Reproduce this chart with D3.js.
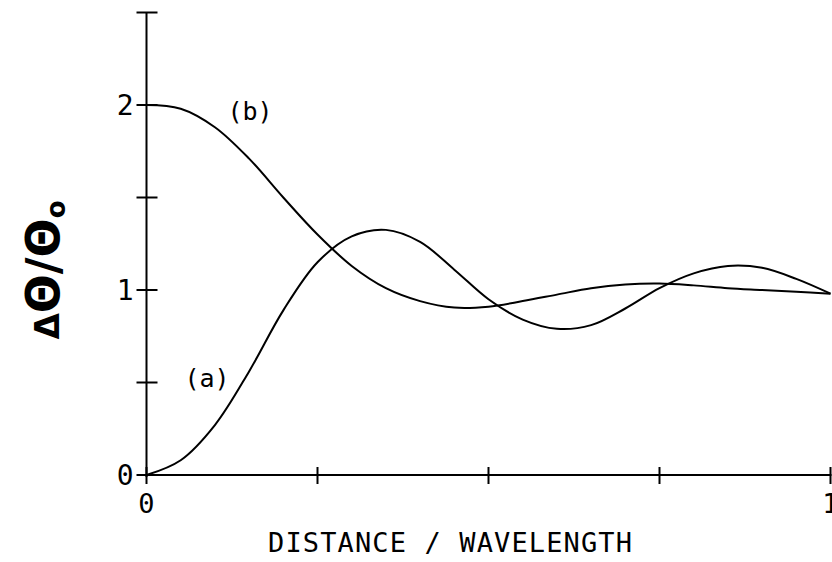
<!DOCTYPE html>
<html>
<head>
<meta charset="utf-8">
<script src="https://cdn.jsdelivr.net/npm/d3@7"></script>
<style>
  html, body { margin: 0; padding: 0; background: #fff; }
  svg { display: block; }
  text { fill: #000; }
</style>
</head>
<body>
<svg id="chart" width="832" height="562"></svg>
<script>
// Normalised distance along the path, in wavelengths
const distance = [0, 0.05, 0.1, 0.15, 0.2, 0.25, 0.3, 0.35, 0.4, 0.45, 0.5, 0.55, 0.6, 0.65, 0.7, 0.75, 0.8, 0.85, 0.9, 0.95, 1.0];
// Relative change ΔΘ/Θo for case (a)
const curveA = [0, 0.08, 0.27, 0.56, 0.89, 1.15, 1.29, 1.325, 1.26, 1.11, 0.95, 0.84, 0.79, 0.81, 0.90, 1.01, 1.09, 1.13, 1.12, 1.06, 0.98];
// Relative change ΔΘ/Θo for case (b)
const curveB = [2.0, 1.98, 1.88, 1.71, 1.50, 1.30, 1.13, 1.01, 0.94, 0.905, 0.91, 0.94, 0.975, 1.01, 1.03, 1.035, 1.025, 1.01, 1.0, 0.99, 0.98];

const xTicks = [0, 0.25, 0.5, 0.75, 1];
const xTickLabels = ["0", "", "", "", "1"];
const yTicks = [0, 0.5, 1, 1.5, 2, 2.5];
const yTickLabels = ["0", "", "1", "", "2", ""];
const curveLabels = ["(a)", "(b)"];

const svg = d3.select("#chart");
const x = d3.scaleLinear().domain([0, 1]).range([146.5, 830.5]);
const y = d3.scaleLinear().domain([0, 2.5]).range([475, 12.5]);

const mono = "'DejaVu Sans Mono', monospace";

// Axis lines
svg.append("line")
  .attr("x1", x(0)).attr("x2", x(0))
  .attr("y1", y(0) + 2).attr("y2", y(2.5))
  .attr("stroke", "#000").attr("stroke-width", 2);
svg.append("line")
  .attr("x1", x(0) - 1).attr("x2", x(1) + 1)
  .attr("y1", y(0)).attr("y2", y(0))
  .attr("stroke", "#000").attr("stroke-width", 2.2);

// Y ticks cross the axis
svg.selectAll(".ytick").data(yTicks).join("line")
  .attr("class", "ytick")
  .attr("x1", x(0) - 10).attr("x2", x(0) + 11)
  .attr("y1", d => y(d)).attr("y2", d => y(d))
  .attr("stroke", "#000").attr("stroke-width", 2);

svg.selectAll(".ylab").data(yTicks).join("text")
  .attr("class", "ylab")
  .attr("x", x(0) - 13)
  .attr("y", d => y(d))
  .attr("dy", "0.36em")
  .attr("text-anchor", "end")
  .attr("font-family", mono)
  .attr("font-size", 28)
  .text((d, i) => yTickLabels[i]);

// X ticks cross the axis
svg.selectAll(".xtick").data(xTicks).join("line")
  .attr("class", "xtick")
  .attr("x1", d => x(d)).attr("x2", d => x(d))
  .attr("y1", y(0) - 8).attr("y2", y(0) + 9)
  .attr("stroke", "#000").attr("stroke-width", 2);

svg.selectAll(".xlab").data(xTicks).join("text")
  .attr("class", "xlab")
  .attr("x", d => x(d))
  .attr("y", y(0) + 38)
  .attr("text-anchor", "middle")
  .attr("font-family", mono)
  .attr("font-size", 27)
  .text((d, i) => xTickLabels[i]);

// Axis titles
svg.append("text")
  .attr("x", 268)
  .attr("y", 552)
  .attr("font-family", mono)
  .attr("font-size", 27)
  .attr("textLength", 364)
  .attr("lengthAdjust", "spacing")
  .text("DISTANCE / WAVELENGTH");

const yTitle = svg.append("text")
  .attr("transform", "translate(59,270) rotate(-90)")
  .attr("text-anchor", "middle")
  .attr("font-family", "'DejaVu Sans', sans-serif")
  .attr("font-weight", "bold")
  .attr("font-size", 46);
yTitle.append("tspan").attr("font-size", 34).text("Δ");
yTitle.append("tspan").text("Θ/Θ");
yTitle.append("tspan").attr("font-size", 26).attr("dy", 6).text("o");

// Curves
const line = d3.line()
  .x(d => x(d[0]))
  .y(d => y(d[1]))
  .curve(d3.curveCatmullRom.alpha(0.5));

const seriesA = distance.map((v, i) => [v, curveA[i]]);
const seriesB = distance.map((v, i) => [v, curveB[i]]);

svg.selectAll(".curve").data([seriesA, seriesB]).join("path")
  .attr("class", "curve")
  .attr("d", line)
  .attr("fill", "none")
  .attr("stroke", "#000")
  .attr("stroke-width", 2);

// Curve labels
svg.append("text")
  .attr("x", 207).attr("y", 378)
  .attr("dy", "0.36em")
  .attr("text-anchor", "middle")
  .attr("font-family", mono)
  .attr("font-size", 25)
  .text(curveLabels[0]);
svg.append("text")
  .attr("x", 250).attr("y", 111)
  .attr("dy", "0.36em")
  .attr("text-anchor", "middle")
  .attr("font-family", mono)
  .attr("font-size", 25)
  .text(curveLabels[1]);
</script>
</body>
</html>
